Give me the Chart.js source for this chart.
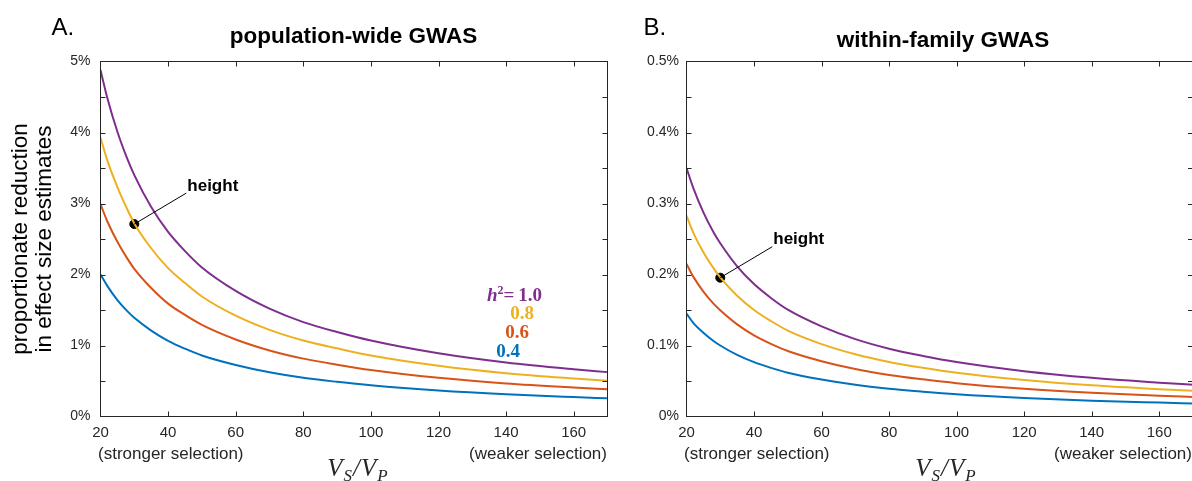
<!DOCTYPE html>
<html>
<head>
<meta charset="utf-8">
<script src="https://cdn.jsdelivr.net/npm/chart.js@4.4.1/dist/chart.umd.min.js"></script>
<style>
  html, body { margin: 0; padding: 0; background: #fff; }
  #page { position: relative; width: 1192px; height: 481px; overflow: hidden; }
  canvas { position: absolute; top: 0; }
  #chartA { left: 0; }
  #chartB { left: 620px; }
  .txt { position: absolute; white-space: nowrap; line-height: 1; font-family: "Liberation Sans", Arial, sans-serif; color: #000; }
  .panel { font-size: 24px; }
  .title { font-size: 22.5px; font-weight: bold; transform: translateX(-50%); }
  .sel { font-size: 17px; color: #262626; }
  .note { font-size: 17px; font-weight: bold; }
  .h2 { font-family: "Liberation Serif", "Times New Roman", serif; font-weight: bold; font-size: 19px; }
  .xlab { font-family: "Liberation Serif", "Times New Roman", serif; font-style: italic; font-size: 25px; letter-spacing: 1px; color: #262626; transform: translateX(-50%); }
  .xlab .sub { font-size: 17px; position: relative; top: 5px; }
</style>
</head>
<body>
<div id="page">
  <canvas id="chartA" width="620" height="481"></canvas>
  <canvas id="chartB" width="600" height="481"></canvas>

  <div class="txt panel" style="left:51.5px; top:15px;">A.</div>
  <div class="txt panel" style="left:643.5px; top:15px;">B.</div>
  <div class="txt title" style="left:353.5px; top:24.5px;">population-wide GWAS</div>
  <div class="txt title" style="left:943px; top:29px;">within-family GWAS</div>

  <div class="txt sel" style="left:98px; top:445px;">(stronger selection)</div>
  <div class="txt sel" style="right:585px; top:445px;">(weaker selection)</div>
  <div class="txt sel" style="left:684px; top:445px;">(stronger selection)</div>
  <div class="txt sel" style="right:0px; top:445px;">(weaker selection)</div>

  <div class="txt xlab" style="left:358px; top:455px;">V<span class="sub">S</span>/V<span class="sub">P</span></div>
  <div class="txt xlab" style="left:946px; top:455px;">V<span class="sub">S</span>/V<span class="sub">P</span></div>

  <div class="txt h2" style="right:650px; top:284.5px; color:#7E2F8E;"><i>h</i><span style="font-size:12px; position:relative; top:-7px;">2</span>=&#8201;1.0</div>
  <div class="txt h2" style="right:658px; top:302.5px; color:#EDB120;">0.8</div>
  <div class="txt h2" style="right:663px; top:321.5px; color:#D95319;">0.6</div>
  <div class="txt h2" style="right:672px; top:341px; color:#0072BD;">0.4</div>

  <div class="txt note" id="noteA">height</div>
  <div class="txt note" id="noteB">height</div>
</div>

<script>
const vsvp = [20, 22, 25, 28, 30, 35, 40, 45, 50, 60, 70, 80, 90, 100, 120, 140, 160, 170];
const h2Labels = ['1.0', '0.8', '0.6', '0.4'];

// population-wide GWAS, % reduction
const popH10 = [4.88, 4.49, 4.01, 3.62, 3.40, 2.95, 2.60, 2.33, 2.10, 1.77, 1.52, 1.33, 1.19, 1.07, 0.89, 0.76, 0.665, 0.625];
const popH08 = [3.93, 3.61, 3.23, 2.91, 2.72, 2.37, 2.09, 1.88, 1.69, 1.42, 1.22, 1.07, 0.96, 0.86, 0.715, 0.61, 0.535, 0.503];
const popH06 = [2.99, 2.75, 2.46, 2.22, 2.08, 1.81, 1.59, 1.43, 1.29, 1.085, 0.93, 0.815, 0.73, 0.655, 0.545, 0.466, 0.408, 0.383];
const popH04 = [2.00, 1.84, 1.64, 1.48, 1.39, 1.21, 1.066, 0.955, 0.86, 0.726, 0.623, 0.545, 0.488, 0.439, 0.365, 0.312, 0.273, 0.256];

// within-family GWAS, % reduction
const famH10 = [0.350, 0.322, 0.2875, 0.2595, 0.244, 0.2115, 0.1865, 0.167, 0.1505, 0.127, 0.109, 0.0955, 0.0853, 0.0767, 0.0638, 0.0545, 0.0477, 0.0448];
const famH08 = [0.283, 0.259, 0.2315, 0.209, 0.196, 0.170, 0.150, 0.1345, 0.121, 0.102, 0.0877, 0.0769, 0.0687, 0.0617, 0.0514, 0.0439, 0.0384, 0.0361];
const famH06 = [0.215, 0.197, 0.176, 0.159, 0.1496, 0.1297, 0.1143, 0.1024, 0.0923, 0.0779, 0.0668, 0.0585, 0.0523, 0.047, 0.0391, 0.0334, 0.0292, 0.0275];
const famH04 = [0.145, 0.132, 0.118, 0.1064, 0.100, 0.0867, 0.0765, 0.0685, 0.0617, 0.0521, 0.0447, 0.0392, 0.035, 0.0314, 0.0262, 0.0223, 0.0196, 0.0184];

// the "height" point
const heightVsVp = 30;
const heightPop = 2.71;
const heightFam = 0.1955;

// ticks
const xTicks = [20, 40, 60, 80, 100, 120, 140, 160];
const popYTicks = [0, 0.5, 1, 1.5, 2, 2.5, 3, 3.5, 4, 4.5, 5];
const famYTicks = [0, 0.05, 0.1, 0.15, 0.2, 0.25, 0.3, 0.35, 0.4, 0.45, 0.5];

const seriesColors = ['#7E2F8E', '#EDB120', '#D95319', '#0072BD'];
const axisColor = '#262626';
const fontFamily = '"Liberation Sans", Arial, sans-serif';
const tickLen = 5;

const frameTicks = {
    id: 'frameTicks',
    afterDatasetsDraw(chart) {
        const { ctx, chartArea: a, scales: { x, y } } = chart;
        ctx.save();
        ctx.strokeStyle = axisColor;
        ctx.lineWidth = 1;
        ctx.strokeRect(a.left, a.top, a.right - a.left, a.bottom - a.top);
        ctx.beginPath();
        x.ticks.forEach(t => {
            if (t.value <= x.min || t.value >= x.max) return;
            const px = Math.round(x.getPixelForValue(t.value)) + 0.5;
            ctx.moveTo(px, a.bottom);
            ctx.lineTo(px, a.bottom - tickLen);
            ctx.moveTo(px, a.top);
            ctx.lineTo(px, a.top + tickLen);
        });
        y.ticks.forEach(t => {
            if (t.value <= y.min || t.value >= y.max) return;
            const py = Math.round(y.getPixelForValue(t.value)) + 0.5;
            ctx.moveTo(a.left, py);
            ctx.lineTo(a.left + tickLen, py);
            ctx.moveTo(a.right, py);
            ctx.lineTo(a.right - tickLen, py);
        });
        ctx.stroke();
        ctx.restore();
    }
};

const heightLeader = {
    id: 'heightLeader',
    afterDatasetsDraw(chart, args, opts) {
        const { ctx, scales: { x, y } } = chart;
        const px = x.getPixelForValue(opts.x);
        const py = y.getPixelForValue(opts.y);
        ctx.save();
        ctx.strokeStyle = '#000';
        ctx.lineWidth = 1;
        ctx.beginPath();
        ctx.moveTo(px, py);
        ctx.lineTo(px + opts.dx, py + opts.dy);
        ctx.stroke();
        ctx.restore();
    }
};

function buildDatasets(series, dotY) {
    const sets = series.map((vals, i) => ({
        label: 'h² = ' + h2Labels[i],
        data: vsvp.map((v, j) => ({ x: v, y: vals[j] })),
        borderColor: seriesColors[i],
        borderWidth: 2,
        pointRadius: 0,
        fill: false,
        cubicInterpolationMode: 'monotone'
    }));
    sets.push({
        type: 'scatter',
        label: 'height',
        data: [{ x: heightVsVp, y: dotY }],
        backgroundColor: '#000',
        borderColor: '#000',
        pointRadius: 4.5,
        pointHoverRadius: 4.5
    });
    return sets;
}

function makeChart(canvasId, cfg) {
    return new Chart(document.getElementById(canvasId), {
        type: 'line',
        data: { datasets: buildDatasets(cfg.series, cfg.dotY) },
        options: {
            responsive: false,
            animation: false,
            layout: { padding: { left: 0, top: 61.5, right: cfg.padRight, bottom: 0 } },
            plugins: {
                legend: { display: false },
                tooltip: { enabled: false },
                heightLeader: { x: heightVsVp, y: cfg.dotY, dx: 52, dy: -31 }
            },
            scales: {
                x: {
                    type: 'linear',
                    min: 20,
                    max: 170,
                    afterBuildTicks: scale => { scale.ticks = xTicks.map(v => ({ value: v })); },
                    afterFit: scale => { scale.height = 64.5; },
                    grid: { display: false, drawTicks: false },
                    border: { display: false },
                    ticks: {
                        autoSkip: false,
                        maxRotation: 0,
                        padding: 7,
                        color: axisColor,
                        font: { family: fontFamily, size: 15 }
                    }
                },
                y: {
                    min: 0,
                    max: cfg.yMax,
                    afterBuildTicks: scale => { scale.ticks = cfg.yTicks.map(v => ({ value: v })); },
                    afterFit: scale => { scale.width = cfg.yWidth; },
                    grid: { display: false, drawTicks: false },
                    border: { display: false },
                    ticks: {
                        autoSkip: false,
                        padding: cfg.yPad,
                        color: axisColor,
                        font: { family: fontFamily, size: 14 },
                        callback: cfg.yLabel
                    },
                    title: cfg.yTitle
                }
            }
        },
        plugins: [frameTicks, heightLeader]
    });
}

const chartA = makeChart('chartA', {
    series: [popH10, popH08, popH06, popH04],
    dotY: heightPop,
    padRight: 12.5,
    yMax: 5,
    yTicks: popYTicks,
    yWidth: 100.5,
    yPad: 10,
    yLabel: v => (Number.isInteger(v) ? v + '%' : ''),
    yTitle: {
        display: true,
        text: ['proportionate reduction', 'in effect size estimates'],
        color: '#000',
        font: { family: fontFamily, size: 22.5, lineHeight: 1.05 },
        padding: { top: 9, bottom: 0 }
    }
});

const chartB = makeChart('chartB', {
    series: [famH10, famH08, famH06, famH04],
    dotY: heightFam,
    padRight: 27,
    yMax: 0.5,
    yTicks: famYTicks,
    yWidth: 66.5,
    yPad: 7.5,
    yLabel: v => {
        const t = Math.round(v * 100);
        if (t % 10 !== 0) return '';
        return t === 0 ? '0%' : (t / 100).toFixed(1) + '%';
    },
    yTitle: { display: false }
});

function placeNote(chart, elId, canvasLeft, yValue) {
    const px = chart.scales.x.getPixelForValue(heightVsVp) + canvasLeft;
    const py = chart.scales.y.getPixelForValue(yValue);
    const el = document.getElementById(elId);
    el.style.left = (px + 53) + 'px';
    el.style.top = (py - 33 - 0.8465 * 17) + 'px';
}

placeNote(chartA, 'noteA', 0, heightPop);
placeNote(chartB, 'noteB', 620, heightFam);
</script>
</body>
</html>
